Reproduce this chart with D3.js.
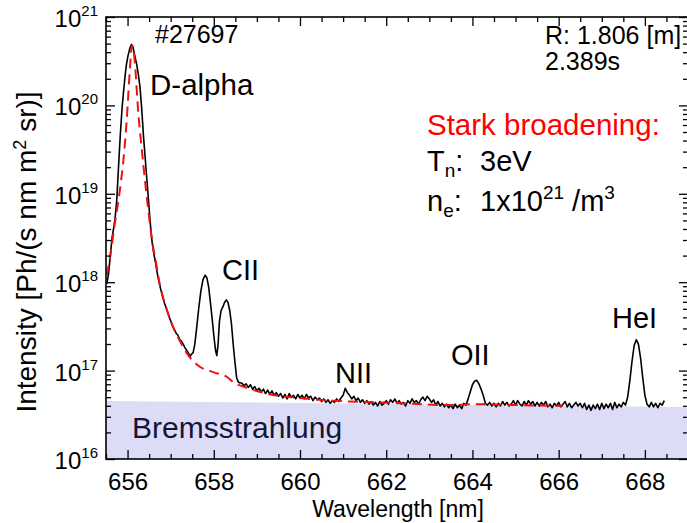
<!DOCTYPE html>
<html><head><meta charset="utf-8">
<script src="https://cdn.jsdelivr.net/npm/d3@7"></script>
<style>
body{margin:0;background:#fff;}
svg text{font-family:"Liberation Sans",Arial,sans-serif;}
</style></head><body>
<svg id="c" width="687" height="523"></svg>
<script>
// Measured spectrum: wavelength [nm] and log10 of intensity [Ph/(s nm m^2 sr)]
const spectrumWavelength = [
655.52,655.56,655.60,655.64,655.68,655.71,655.75,655.79,655.83,655.87,655.90,655.94,655.97,656.01,656.05,656.09,656.12,656.16,656.21,656.25,656.29,656.33,656.37,656.41,656.45,656.49,656.53,656.57,656.61,656.65,656.69,656.73,656.77,656.81,656.85,656.89,656.93,656.97,657.01,657.05,657.09,657.13,657.17,657.21,657.25,657.29,657.33,657.37,657.41,657.45,657.49,657.52,657.56,657.60,657.65,657.70,657.75,657.80,657.84,657.88,657.92,657.96,658.00,658.04,658.07,658.10,658.13,658.17,658.21,658.25,658.29,658.33,658.37,658.41,658.45,658.49,658.53,658.57,658.61,
658.65,658.70,658.75,658.80,658.85,658.90,658.95,659.00,659.05,659.10,659.15,659.20,659.25,659.30,659.35,659.40,659.45,659.50,659.55,659.60,659.65,659.70,659.75,659.80,659.85,659.90,659.95,660.00,660.05,660.10,660.15,660.20,660.25,660.30,660.35,660.40,660.45,660.50,660.55,660.60,660.65,660.70,660.75,660.80,660.85,660.90,660.95,661.00,661.05,661.10,661.15,661.20,661.25,661.30,661.35,661.40,661.45,661.50,661.55,661.60,661.65,661.70,661.75,661.80,661.85,661.90,661.95,662.00,662.05,662.10,662.15,662.20,662.25,662.30,662.35,662.40,662.45,662.50,662.55,662.60,662.65,662.70,662.75,662.80,662.85,662.90,662.95,663.00,663.05,663.10,663.15,663.20,663.25,663.30,663.35,663.40,663.45,663.50,663.55,663.60,663.65,663.70,663.75,663.80,663.85,663.90,663.95,664.00,664.05,664.10,664.15,664.20,664.25,664.30,664.35,664.40,664.45,664.50,664.55,664.60,664.65,664.70,664.75,664.80,664.85,664.90,664.95,665.00,665.05,665.10,665.15,665.20,665.25,665.30,665.35,665.40,665.45,665.50,665.55,665.60,665.65,665.70,665.75,665.80,665.85,665.90,665.95,666.00,666.05,666.10,666.15,666.20,666.25,666.30,666.35,666.40,666.45,666.50,666.55,666.60,666.65,666.70,666.75,666.80,666.85,666.90,666.95,667.00,667.05,667.10,667.15,667.20,667.25,667.30,667.35,667.40,667.45,667.50,667.55,667.60,667.65,667.70,667.75,667.80,667.85,667.90,667.95,668.00,668.05,668.10,668.15,668.20,668.25,668.30,668.35,668.40,668.45];
const spectrumLog10 = [
17.98,18.10,18.30,18.50,18.62,18.72,18.93,19.30,19.65,19.95,20.12,20.32,20.45,20.56,20.64,20.69,20.67,20.58,20.47,20.35,20.20,19.95,19.65,19.40,19.15,18.90,18.65,18.45,18.32,18.22,18.10,18.00,17.92,17.85,17.77,17.72,17.66,17.60,17.55,17.50,17.46,17.42,17.40,17.35,17.33,17.30,17.26,17.23,17.20,17.16,17.19,17.20,17.30,17.47,17.70,17.90,18.03,18.08,18.05,17.95,17.78,17.60,17.40,17.23,17.17,17.30,17.55,17.68,17.72,17.77,17.80,17.77,17.68,17.53,17.30,17.10,16.92,16.87,16.86,
16.86,16.83,16.85,16.81,16.84,16.79,16.82,16.77,
16.80,16.76,16.79,16.74,16.78,16.73,16.77,16.72,16.75,16.71,
16.74,16.69,16.73,16.68,16.74,16.70,16.72,16.68,16.73,16.69,
16.72,16.68,16.73,16.69,16.71,16.66,16.70,16.67,16.69,16.65,
16.68,16.64,16.67,16.63,16.66,16.64,16.68,16.65,16.69,16.72,
16.80,16.75,16.72,16.68,16.71,16.66,16.69,16.64,16.67,16.63,
16.66,16.62,16.65,16.61,16.64,16.60,16.65,16.61,16.63,16.66,
16.62,16.67,16.64,16.68,16.63,16.66,16.62,16.64,16.60,16.66,
16.63,16.68,16.64,16.66,16.62,16.67,16.70,16.66,16.71,16.68,
16.64,16.67,16.61,16.65,16.60,16.63,16.59,16.62,16.58,16.61,
16.57,16.62,16.58,16.61,16.57,16.63,16.61,16.68,16.76,16.84,
16.88,16.89,16.85,16.79,16.72,16.63,16.61,16.64,16.60,16.63,
16.59,16.63,16.60,16.65,16.61,16.64,16.60,16.62,16.66,16.61,
16.66,16.62,16.60,16.65,16.61,16.66,16.62,16.65,16.60,16.64,
16.60,16.64,16.61,16.65,16.59,16.62,16.58,16.63,16.60,16.64,
16.59,16.62,16.65,16.59,16.63,16.58,16.61,16.64,16.60,16.63,
16.58,16.63,16.56,16.61,16.55,16.61,16.57,16.62,16.56,16.63,
16.57,16.62,16.58,16.63,16.56,16.64,16.58,16.62,16.59,16.64,
16.61,16.70,16.88,17.10,17.28,17.35,17.30,17.14,16.92,16.72,
16.62,16.59,16.64,16.59,16.63,16.58,16.63,16.61,16.66];

// Stark broadening fit (red dashed)
const fitWavelength = [655.52,655.60,655.70,655.79,655.85,655.90,655.98,656.06,656.10,656.14,656.17,656.25,656.31,656.37,656.48,656.56,656.66,656.75,656.91,657.06,657.22,657.37,657.63,658.00,658.30,658.45,658.80,659.23,660.00,660.77,661.50,662.09,663.41,664.11,665.00,666.10];
const fitLog10 = [18.08,18.30,18.65,18.93,19.15,19.36,19.83,20.45,20.68,20.62,20.48,19.91,19.60,19.31,18.82,18.50,18.22,17.97,17.69,17.49,17.33,17.20,17.06,16.98,16.93,16.87,16.80,16.74,16.69,16.66,16.645,16.637,16.61,16.62,16.61,16.60];

// Bremsstrahlung level
const bremsWavelength = [655.5, 669.0];
const bremsLog10 = [16.656, 16.588];

const xMajorTicks = [656, 658, 660, 662, 664, 666, 668];
const yDecades = [16, 17, 18, 19, 20, 21];

const svg = d3.select("#c");
const L = 106, T = 17, R = 688, B = 459;
const x = d3.scaleLinear().domain([655.5, 669]).range([L, R]);
const y = d3.scaleLog().domain([1e16, 1e21]).range([B, T]);
const FONT = '"Liberation Sans", Arial, sans-serif';

svg.append("defs").append("clipPath").attr("id", "clip")
  .append("rect").attr("x", L).attr("y", T).attr("width", R - L).attr("height", B - T);

const plot = svg.append("g").attr("clip-path", "url(#clip)");

// Bremsstrahlung band
const brems = bremsWavelength.map((w, i) => ({w, v: 10 ** bremsLog10[i]}));
plot.append("path")
  .datum(brems)
  .attr("fill", "#dcdcf7")
  .attr("d", d3.area().x(d => x(d.w)).y0(y(1e16)).y1(d => y(d.v)));

// spectrum
const spec = spectrumWavelength.map((w, i) => ({w, v: 10 ** spectrumLog10[i]}));
plot.append("path").datum(spec)
  .attr("fill", "none").attr("stroke", "#000").attr("stroke-width", 1.6)
  .attr("stroke-linejoin", "round")
  .attr("d", d3.line().x(d => x(d.w)).y(d => y(d.v)));

// fit
const fit = fitWavelength.map((w, i) => ({w, v: 10 ** fitLog10[i]}));
plot.append("path").datum(fit)
  .attr("fill", "none").attr("stroke", "#f01010").attr("stroke-width", 2)
  .attr("stroke-dasharray", "10,6")
  .attr("d", d3.line().curve(d3.curveMonotoneX).x(d => x(d.w)).y(d => y(d.v)));

// axes frame
const axisG = svg.append("g");
const xMinor = d3.range(655.5, 669.01, 0.5).filter(v => !xMajorTicks.includes(v));
axisG.append("g").attr("transform", `translate(0,${B})`)
  .call(d3.axisBottom(x).tickValues(xMinor).tickSize(-5).tickFormat(""));
axisG.append("g").attr("transform", `translate(0,${B})`)
  .call(d3.axisBottom(x).tickValues(xMajorTicks).tickSize(-9).tickPadding(14).tickFormat(d3.format("d")));
axisG.append("g").attr("transform", `translate(0,${T})`)
  .call(d3.axisTop(x).tickValues(xMinor).tickSize(-5).tickFormat(""));
axisG.append("g").attr("transform", `translate(0,${T})`)
  .call(d3.axisTop(x).tickValues(xMajorTicks).tickSize(-9).tickFormat(""));
const yMinor = [];
yDecades.slice(0, -1).forEach(d => { for (let m = 2; m <= 9; m++) yMinor.push(m * 10 ** d); });
const yMajor = yDecades.map(d => 10 ** d);
axisG.append("g").attr("transform", `translate(${L},0)`)
  .call(d3.axisLeft(y).tickValues(yMinor).tickSize(-5).tickFormat(""));
axisG.append("g").attr("transform", `translate(${L},0)`)
  .call(d3.axisLeft(y).tickValues(yMajor).tickSize(-9).tickFormat(""));
axisG.append("g").attr("transform", `translate(${R},0)`)
  .call(d3.axisRight(y).tickValues(yMinor).tickSize(-5).tickFormat(""));
axisG.append("g").attr("transform", `translate(${R},0)`)
  .call(d3.axisRight(y).tickValues(yMajor).tickSize(-9).tickFormat(""));
axisG.selectAll(".domain").remove();
axisG.selectAll(".tick line").attr("stroke", "#000").attr("stroke-width", 1.3);
axisG.selectAll(".tick text").attr("font-family", FONT).attr("font-size", 24).attr("fill", "#000");
axisG.append("rect").attr("x", L).attr("y", T).attr("width", R - L).attr("height", B - T)
  .attr("fill", "none").attr("stroke", "#000").attr("stroke-width", 1.6);

// y tick labels 10^n
yDecades.forEach(d => {
  const t = svg.append("text").attr("x", 98).attr("y", y(10 ** d) + 10)
    .attr("text-anchor", "end").attr("font-size", 24).attr("fill", "#000");
  t.append("tspan").text("10");
  t.append("tspan").attr("dy", -11).attr("font-size", 15).text(String(d));
});

// axis titles
svg.append("text").attr("x", 398).attr("y", 517).attr("text-anchor", "middle")
  .attr("font-size", 23).attr("fill", "#000").text("Wavelength [nm]");
const yt = svg.append("text").attr("transform", "translate(36,252) rotate(-90)")
  .attr("text-anchor", "middle").attr("font-size", 28).attr("fill", "#000");
yt.append("tspan").text("Intensity [Ph/(s nm m");
yt.append("tspan").attr("dy", -10).attr("font-size", 18).text("2");
yt.append("tspan").attr("dy", 10).text(" sr)]");

// annotations
function label(txt, xx, yy, size, color) {
  return svg.append("text").attr("x", xx).attr("y", yy).attr("font-size", size)
    .attr("fill", color || "#000").text(txt);
}
label("#27697", 155, 43, 25);
label("R: 1.806 [m]", 545, 44, 25);
label("2.389s", 545, 70, 25);
label("D-alpha", 150, 95, 29.5);
label("CII", 222, 280, 29);
label("NII", 335, 383, 29);
label("OII", 451, 365, 29);
label("HeI", 612, 328, 29);
label("Bremsstrahlung", 132, 438, 30, "#15153a");
label("Stark broadening:", 427, 135, 29.5, "#ff0000");

const tn = svg.append("text").attr("x", 427).attr("y", 171).attr("font-size", 29).attr("fill", "#000");
tn.append("tspan").text("T");
tn.append("tspan").attr("dy", 6).attr("font-size", 19).text("n");
tn.append("tspan").attr("dy", -6).text(":");
tn.append("tspan").attr("x", 480).text("3eV");

const ne = svg.append("text").attr("x", 427).attr("y", 211).attr("font-size", 29).attr("fill", "#000");
ne.append("tspan").text("n");
ne.append("tspan").attr("dy", 6).attr("font-size", 19).text("e");
ne.append("tspan").attr("dy", -6).text(":");
ne.append("tspan").attr("x", 480).text("1x10");
ne.append("tspan").attr("dy", -12).attr("font-size", 19).text("21");
ne.append("tspan").attr("dy", 12).text(" /m");
ne.append("tspan").attr("dy", -12).attr("font-size", 19).text("3");
</script>
</body></html>
